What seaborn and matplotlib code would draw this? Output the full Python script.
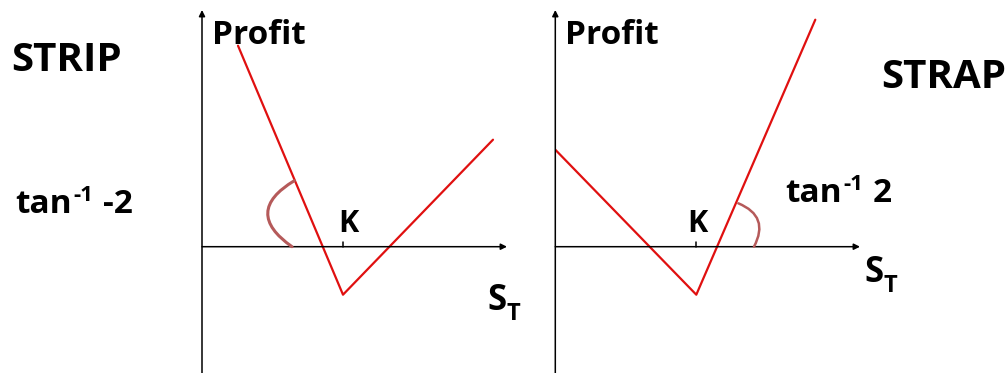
import numpy as np
import pandas as pd
import matplotlib as mpl
import matplotlib.pyplot as plt
import seaborn as sb

sb.set_style("white")
plt.rcParams['font.family'] = ['Open Sans', 'DejaVu Sans']
plt.rcParams['text.color'] = 'black'

# payoff lines (S_T, profit), axis origin = (0, 0)
strip_S = [36, 141, 291]
strip_profit = [201, -48, 107]
strap_S = [0, 141, 260]
strap_profit = [97, -48, 227]
K = 141

RED = "#e01010"
ARC = "#b55a5a"

fig = plt.figure(figsize=(10.08, 3.73), dpi=100)
ax1 = fig.add_axes([202 / 1008, 0, 318 / 1008, 1])
ax2 = fig.add_axes([555.3 / 1008, 0, 320 / 1008, 1])

def draw_axes(ax, xend):
    ax.set_xlim(0, ax.get_position().width * 1008)
    ax.set_ylim(-126.3, 246.7)
    ax.axis("off")
    arrow = dict(arrowstyle='-|>', color='black', lw=1.1, mutation_scale=9,
                 shrinkA=0, shrinkB=0)
    ax.annotate('', xy=(0, 236.7), xytext=(0, -126.3), arrowprops=arrow,
                annotation_clip=False)
    ax.annotate('', xy=(xend, 0), xytext=(0, 0), arrowprops=arrow,
                annotation_clip=False)
    ax.plot([K, K], [0, 5], color='black', lw=1.1)
    ax.text(10, 203, "Profit", fontsize=24, fontweight='bold', va='baseline')

draw_axes(ax1, 305)
draw_axes(ax2, 304.7)

df1 = pd.DataFrame({"S": strip_S, "Profit": strip_profit})
df2 = pd.DataFrame({"S": strap_S, "Profit": strap_profit})
sb.lineplot(data=df1, x="S", y="Profit", ax=ax1, color=RED, lw=1.6, sort=False)
sb.lineplot(data=df2, x="S", y="Profit", ax=ax2, color=RED, lw=1.6, sort=False)
for ax in (ax1, ax2):
    ax.set_xlabel("")
    ax.set_ylabel("")

# angle markers
ax1.annotate('', xy=(92.3, 66), xytext=(90, 0),
             arrowprops=dict(arrowstyle='-', connectionstyle='arc3,rad=-0.77',
                             color=ARC, lw=2.2, shrinkA=0, shrinkB=0))
ax2.annotate('', xy=(183, 43.4), xytext=(198.7, 0),
             arrowprops=dict(arrowstyle='-', connectionstyle='arc3,rad=0.55',
                             color=ARC, lw=1.8, shrinkA=0, shrinkB=0))

# K labels
ax1.text(146, 15, "K", fontsize=22, fontweight='bold', ha='center', va='baseline')
ax2.text(142, 15, "K", fontsize=22, fontweight='bold', ha='center', va='baseline')

def fy(y):
    return 1 - y / 373

def ftext(x, y, s, size, **kw):
    return fig.text(x / 1008, fy(y), s, fontsize=size, fontweight='bold',
                    va='baseline', **kw)

# text placed right after the previous one, on its own baseline
def after(prev, y, s, size, dx=0):
    a = mpl.text.Annotation(s, xy=(1, fy(y)), xycoords=(prev, 'figure fraction'),
                            xytext=(dx, 0), textcoords='offset pixels',
                            fontsize=size, fontweight='bold', va='baseline',
                            annotation_clip=False)
    fig.add_artist(a)
    return a

ftext(11, 71, "STRIP", 29)
ftext(1006, 88, "STRAP", 29, ha='right')

t = ftext(15, 213, "tan", 24)
t = after(t, 201, "-1", 16, 2)
after(t, 213, "-2", 24, 9)

t = ftext(785, 202, "tan", 24)
t = after(t, 190, "-1", 16, 2)
after(t, 202, "2", 24, 9)

# S_T labels
t = ftext(487, 310, "S", 25)
after(t, 320, "T", 17, 0)
t = ftext(864, 282, "S", 25)
after(t, 292, "T", 17, 0)

fig.savefig("out.png", dpi=100)
